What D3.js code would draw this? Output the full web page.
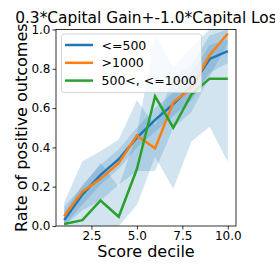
<!DOCTYPE html>
<html><head><meta charset="utf-8">
<script src="https://cdn.jsdelivr.net/npm/d3@7"></script>
<style>body{margin:0;background:#fff}svg{display:block}text{font-family:"DejaVu Sans",sans-serif}</style>
</head><body><svg id="c" width="275" height="275"></svg>
<script>
const deciles = [1,2,3,4,5,6,7,8,9,10];
const seriesNames = ["<=500", ">1000", "500<, <=1000"];
const seriesColors = ["#1f77b4", "#ff7f0e", "#2ca02c"];
const valsLow = [0.03,0.16,0.26,0.34,0.45,0.54,0.62,0.71,0.85,0.89];
const valsHigh = [0.05,0.175,0.24,0.32,0.46,0.395,0.63,0.70,0.87,0.98];
const valsMid = [0.01,0.03,0.13,0.047,0.29,0.66,0.50,0.67,0.75,0.75];
const loLow = [0.0,0.11,0.21,0.29,0.40,0.48,0.56,0.64,0.78,0.83];
const hiLow = [0.07,0.21,0.31,0.39,0.50,0.60,0.68,0.78,0.92,0.95];
const loHigh = [0.0,0.08,0.13,0.21,0.28,0.28,0.50,0.58,0.76,0.93];
const hiHigh = [0.12,0.33,0.38,0.44,0.64,0.51,0.76,0.82,0.97,1.0];
const loMid = [0,0,0,0,0.107,0.353,0.19,0.43,0.505,0.327];
const hiMid = [0.1,0.2,0.32,0.2,0.47,0.97,0.81,0.91,1.0,1.0];
const xTicks = [2.5,5.0,7.5,10.0];
const yTicks = [0,0.2,0.4,0.6,0.8,1.0];
const titleText = "0.3*Capital Gain+-1.0*Capital Loss";
const xLabel = "Score decile";
const yLabel = "Rate of positive outcomes";

const svg = d3.select("#c");
const L=56,R=236,T=29.5,B=226;
const x = d3.scaleLinear().domain([0.55,10.45]).range([L,R]);
const y = d3.scaleLinear().domain([0,1]).range([B,T]);

svg.append("defs").append("clipPath").attr("id","clip").append("rect")
  .attr("x",L).attr("y",T).attr("width",R-L).attr("height",B-T);

const series = [
  {name:seriesNames[0], color:seriesColors[0], v:valsLow, lo:loLow, hi:hiLow},
  {name:seriesNames[1], color:seriesColors[1], v:valsHigh, lo:loHigh, hi:hiHigh},
  {name:seriesNames[2], color:seriesColors[2], v:valsMid, lo:loMid, hi:hiMid}
];
const g = svg.append("g").attr("clip-path","url(#clip)");
const area = d3.area().x(d=>x(d.x)).y0(d=>y(d.lo)).y1(d=>y(d.hi));
series.forEach(s=>{
  g.append("path").datum(deciles.map((d,i)=>({x:d,lo:s.lo[i],hi:s.hi[i]})))
   .attr("d",area).attr("fill","#1f77b4").attr("fill-opacity",0.2);
});
const line = d3.line().x(d=>x(d.x)).y(d=>y(d.v));
series.forEach(s=>{
  g.append("path").datum(deciles.map((d,i)=>({x:d,v:s.v[i]})))
   .attr("d",line).attr("fill","none").attr("stroke",s.color).attr("stroke-width",2.5);
});

// axes
const xa = svg.append("g").attr("transform",`translate(0,${B})`)
  .call(d3.axisBottom(x).tickValues(xTicks).tickFormat(d3.format(".1f")).tickSize(3.5).tickPadding(2));
const ya = svg.append("g").attr("transform",`translate(${L},0)`)
  .call(d3.axisLeft(y).tickValues(yTicks).tickFormat(d3.format(".1f")).tickSize(3.5).tickPadding(2));
[xa,ya].forEach(a=>{a.select(".domain").remove();a.selectAll("text").attr("font-size",12).attr("fill","#000").style("font-family","DejaVu Sans");a.selectAll("line").attr("stroke","#000").attr("stroke-width",0.8);});
svg.append("rect").attr("x",L).attr("y",T).attr("width",R-L).attr("height",B-T)
  .attr("fill","none").attr("stroke","#000").attr("stroke-width",0.8);

// legend
const lg = svg.append("g");
lg.append("rect").attr("x",61.5).attr("y",34).attr("width",140).attr("height",58.5).attr("rx",2.5)
  .attr("fill","#fff").attr("fill-opacity",0.8).attr("stroke","#cccccc").attr("stroke-width",0.8);
series.forEach((s,i)=>{
  const yy = 45 + i*17.8;
  lg.append("line").attr("x1",65).attr("x2",93).attr("y1",yy).attr("y2",yy).attr("stroke",s.color).attr("stroke-width",2.5);
  lg.append("text").attr("x",101.5).attr("y",yy+4.5).attr("font-size",12.5).text(s.name);
});

svg.append("text").attr("x",150).attr("y",23).attr("text-anchor","middle").attr("font-size",15.4).text(titleText);
svg.append("text").attr("x",(L+R)/2).attr("y",257).attr("text-anchor","middle").attr("font-size",16).text(xLabel);
svg.append("text").attr("transform",`translate(26.5,${(T+B)/2}) rotate(-90)`).attr("text-anchor","middle").attr("font-size",16).text(yLabel);
</script></body></html>
